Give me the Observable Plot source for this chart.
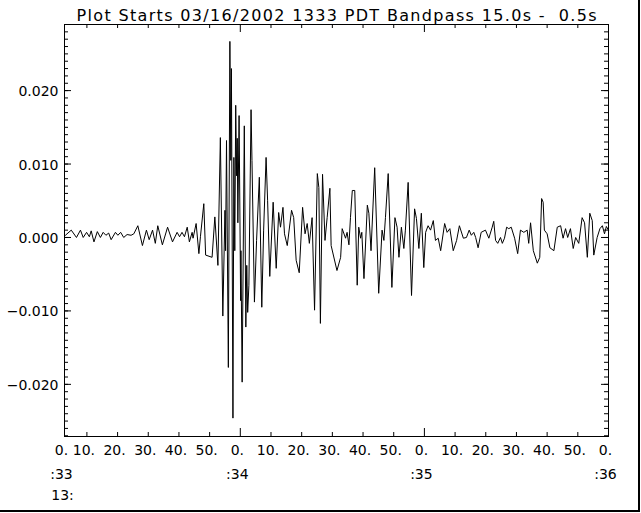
<!DOCTYPE html>
<html><head><meta charset="utf-8">
<script src="https://cdn.jsdelivr.net/npm/d3@7"></script>
<script src="https://cdn.jsdelivr.net/npm/@observablehq/plot@0.6"></script>
<style>
body{margin:0;background:#fff;}
#wrap{position:relative;width:641px;height:513px;overflow:hidden;background:#fff;}
#edge{position:absolute;left:0;top:0;width:638px;height:510px;border-right:2px solid #000;border-bottom:2px solid #000;pointer-events:none;}
</style></head><body>
<div id="wrap"><div id="chart"></div><div id="edge"></div></div>
<script>
const title = "Plot Starts 03/16/2002 1333 PDT Bandpass 15.0s -  0.5s";

// seconds after 13:33:00
const timeSec = [2.7,3.0,4.9,6.6,7.9,8.8,9.9,10.8,11.4,12.3,
13.4,14.4,15.3,16.2,17.1,17.9,19.3,20.1,21.0,22.0,
23.1,24.4,25.3,26.6,28.1,29.4,30.3,31.4,32.3,33.1,
34.6,36.3,37.9,39.4,40.2,41.0,41.8,42.7,43.4,44.3,
44.6,45.6,46.5,47.0,48.1,48.7,50.8,51.7,52.7,53.5,
54.3,55.0,55.2,55.5,56.1,56.6,56.9,57.1,57.6,57.9,
58.2,58.5,58.8,59.0,59.2,59.6,60.1,60.2,60.6,61.3,
61.8,62.1,62.4,62.8,63.5,63.8,64.6,65.3,66.2,67.0,
67.6,68.4,68.9,69.6,70.7,71.7,72.5,73.1,73.9,74.4,
75.3,76.7,77.4,78.2,79.2,80.3,81.1,81.8,82.5,83.4,
84.2,85.1,85.6,86.1,86.8,87.6,88.3,89.2,89.6,91.5,
92.7,93.2,94.3,94.8,95.4,95.9,96.5,97.3,98.1,98.6,
99.2,99.6,100.3,101.4,101.9,102.6,103.8,105.1,106.2,106.8,
107.3,108.2,109.4,110.4,111.1,111.7,112.5,113.3,113.8,114.7,
115.8,116.8,117.4,118.2,119.0,119.8,120.4,121.2,122.0,122.9,
123.6,124.5,125.3,126.6,127.4,128.3,129.4,130.5,131.4,132.7,
133.7,134.6,135.3,136.1,136.7,137.5,138.5,139.9,141.0,142.1,
142.6,143.2,143.9,144.8,145.4,146.1,146.8,147.5,148.3,149.4,
150.4,151.3,152.4,153.5,154.0,154.6,155.5,156.8,157.6,158.2,
158.7,159.1,160.0,160.9,162.2,163.3,164.4,165.2,166.0,166.7,
167.6,168.5,169.3,170.3,171.4,172.2,173.1,173.9,174.7,175.2,
176.3,177.2,178.0,178.7,179.3,180.0];

const amplitude = [0.0004,0.0003,0.0010,0.0000,0.0010,0.0000,0.0007,0.0001,0.0009,-0.0006,
0.0008,0.0000,0.0007,0.0003,0.0006,-0.0003,0.0007,0.0003,0.0007,0.0000,
0.0004,0.0003,0.0005,0.0016,-0.0011,0.0010,-0.0003,0.0010,-0.0008,0.0016,
-0.0010,0.0014,-0.0006,0.0007,0.0001,0.0007,0.0001,0.0014,-0.0006,0.0007,
-0.0001,0.0019,-0.0022,0.0001,0.0046,-0.0024,-0.0027,0.0028,-0.0038,0.0136,
-0.0107,0.0037,-0.0018,0.0132,-0.0177,0.0267,0.0105,0.0230,-0.0246,0.0109,
-0.0018,0.0180,0.0084,0.0135,0.0020,0.0166,-0.0086,-0.0018,-0.0197,0.0152,
-0.0122,-0.0038,-0.0102,-0.0065,0.0174,0.0105,-0.0088,-0.0004,0.0082,-0.0095,
0.0010,0.0109,0.0050,-0.0053,0.0048,-0.0042,0.0034,0.0014,0.0041,0.0005,
-0.0011,0.0037,0.0027,-0.0031,-0.0048,0.0041,0.0005,0.0019,-0.0008,0.0027,
-0.0099,0.0087,0.0068,-0.0117,0.0086,-0.0004,0.0027,0.0067,-0.0011,-0.0045,
-0.0027,0.0012,-0.0001,0.0007,-0.0010,0.0027,0.0064,0.0064,-0.0065,0.0014,
-0.0001,0.0007,-0.0056,0.0044,0.0033,-0.0018,0.0095,-0.0076,0.0010,-0.0004,
0.0027,0.0087,-0.0068,0.0027,0.0014,-0.0027,0.0014,-0.0015,0.0010,0.0075,
-0.0079,0.0039,0.0026,-0.0015,0.0033,-0.0041,0.0007,0.0016,0.0010,0.0023,
-0.0004,-0.0001,-0.0018,0.0019,0.0007,0.0012,-0.0018,-0.0004,0.0016,-0.0001,
0.0000,0.0010,0.0003,0.0007,0.0000,-0.0014,0.0007,0.0010,-0.0001,0.0014,
0.0022,-0.0004,-0.0008,0.0000,-0.0008,-0.0001,0.0014,0.0012,0.0014,-0.0001,
-0.0022,0.0010,0.0007,0.0010,-0.0008,0.0020,-0.0018,-0.0035,-0.0027,0.0053,
0.0048,0.0010,0.0005,-0.0014,-0.0018,0.0014,0.0016,-0.0001,0.0012,0.0000,
0.0012,-0.0015,0.0000,-0.0008,0.0027,0.0020,-0.0027,0.0033,0.0023,-0.0024,
0.0000,0.0012,0.0016,0.0005,0.0015,0.0010];

const xDomain = [2.7, 180];
const yDomain = [-0.0271, 0.0290];
const yMajorTicks = [-0.02, -0.01, 0, 0.01, 0.02];
const yMinorTicks = d3.range(-27, 29).map(k => k / 1000);
const xMinorTicks = [10,20,30,40,50,70,80,90,100,110,130,140,150,160,170];
const xMajorTicks = [60,120];
const secLabelTimes = [2.7,10,20,30,40,50,60,70,80,90,100,110,120,130,140,150,160,170,180];
const secLabels = ["0.","10.","20.","30.","40.","50.","0.","10.","20.","30.","40.","50.","0.","10.","20.","30.","40.","50.","0."];
const minuteLabelTimes = [2.7,60,120,180];
const minuteLabels = [":33",":34",":35",":36"];
const hourLabelTimes = [2.7];
const hourLabels = ["13:"];

const W = 641, H = 513, mL = 64, mR = 33, mT = 24, mB = 77;
const innerW = W - mL - mR, innerH = H - mT - mB;
const trace = timeSec.map((t, i) => ({t, v: amplitude[i]}));
const fmt = d3.format(".3f");
const font = "DejaVu Sans";

const chart = Plot.plot({
  width: W, height: H,
  marginLeft: mL, marginRight: mR, marginTop: mT, marginBottom: mB,
  style: {fontFamily: font, fontSize: "14px", background: "white", color: "black"},
  x: {domain: xDomain, axis: null},
  y: {domain: yDomain, axis: null},
  marks: [
    Plot.frame({stroke: "black"}),
    Plot.ruleY(yMinorTicks, {y: d => d, stroke: "black", insetRight: innerW - 4}),
    Plot.ruleY(yMajorTicks, {y: d => d, stroke: "black", insetRight: innerW - 7}),
    Plot.ruleY(yMinorTicks, {y: d => d, stroke: "black", insetLeft: innerW - 4}),
    Plot.ruleY(yMajorTicks, {y: d => d, stroke: "black", insetLeft: innerW - 7}),
    Plot.ruleX(xMinorTicks, {x: d => d, stroke: "black", insetTop: innerH - 4}),
    Plot.ruleX(xMajorTicks, {x: d => d, stroke: "black", insetTop: innerH - 8}),
    Plot.ruleX(xMinorTicks, {x: d => d, stroke: "black", insetBottom: innerH - 4}),
    Plot.ruleX(xMajorTicks, {x: d => d, stroke: "black", insetBottom: innerH - 8}),
    Plot.line(trace, {x: "t", y: "v", stroke: "black", strokeWidth: 1}),
    Plot.text(yMajorTicks, {y: d => d, text: d => fmt(d), frameAnchor: "left", textAnchor: "end", dx: -6, dy: 1, fontSize: 14}),
    Plot.text(secLabelTimes, {x: d => d, text: (d, i) => secLabels[i], frameAnchor: "bottom", dy: 18, dx: -3, fontSize: 14}),
    Plot.text(minuteLabelTimes, {x: d => d, text: (d, i) => minuteLabels[i], frameAnchor: "bottom", dy: 42, dx: -3, fontSize: 14}),
    Plot.text(hourLabelTimes, {x: d => d, text: (d, i) => hourLabels[i], frameAnchor: "bottom", dy: 63, dx: -2, fontSize: 14}),
    Plot.text([title], {text: d => d, frameAnchor: "top", dy: -15, fontSize: 16})
  ]
});
d3.select(chart).selectAll("text").filter(function() { return this.textContent === title; })
  .attr("textLength", 520).attr("lengthAdjust", "spacing");
document.getElementById("chart").appendChild(chart);
</script>
</body></html>
